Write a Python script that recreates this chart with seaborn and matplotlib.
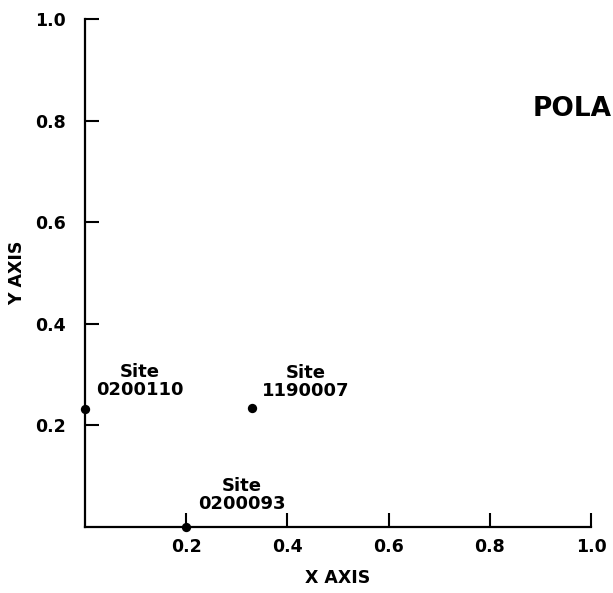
import matplotlib
matplotlib.use("Agg")
import matplotlib.pyplot as plt
import seaborn as sns
import pandas as pd

# data
sites = ["0200110", "1190007", "0200093"]
x_vals = [0.0, 0.33, 0.20]
y_vals = [0.232, 0.234, 0.0]
x_ticks = [0.2, 0.4, 0.6, 0.8, 1.0]
y_ticks = [0.2, 0.4, 0.6, 0.8, 1.0]
tick_labels = ["0.2", "0.4", "0.6", "0.8", "1.0"]

df = pd.DataFrame({"site": sites, "x": x_vals, "y": y_vals})

sns.set_style("ticks")
plt.rcParams["font.family"] = ["DejaVu Sans"]
plt.rcParams["text.color"] = "black"
plt.rcParams["axes.labelcolor"] = "black"

fig = plt.figure(figsize=(6.13, 5.93), dpi=100)
W, H = 613, 593
ax = fig.add_axes([85 / W, (H - 527) / H, (591 - 85) / W, (527 - 19) / H])

sns.scatterplot(data=df, x="x", y="y", ax=ax, color="black", s=45,
                edgecolor="black", linewidth=0, clip_on=False, zorder=5)

ax.set_xlim(0, 1.0)
ax.set_ylim(0, 1.0)
ax.set_xticks(x_ticks)
ax.set_yticks(y_ticks)
ax.set_xticklabels(tick_labels, fontsize=12.5, fontweight="bold", color="black")
ax.set_yticklabels(tick_labels, fontsize=12.5, fontweight="bold", color="black")
ax.tick_params(axis="both", direction="in", length=10, width=1.5, colors="black")
ax.tick_params(axis="y", pad=14)
ax.tick_params(axis="x", pad=8)
sns.despine(ax=ax)
for s in ["left", "bottom"]:
    ax.spines[s].set_linewidth(1.6)
    ax.spines[s].set_color("black")

ax.set_xlabel("X AXIS", fontsize=12.5, fontweight="bold", labelpad=9, color="black")
ax.set_ylabel("Y AXIS", fontsize=12.5, fontweight="bold", labelpad=6, color="black")

offsets = [(8, 7), (7, 6), (8.5, 10)]
for name, xv, yv, off in zip(sites, x_vals, y_vals, offsets):
    ax.annotate(f"Site\n{name}", (xv, yv), xytext=off, textcoords="offset points",
                ha="left", va="bottom", multialignment="center",
                fontsize=13, fontweight="bold", linespacing=1.0,
                color="black", annotation_clip=False)

fig.text(533 / W, 1 - 109 / H, "POLA", fontsize=19, fontweight="bold",
         ha="left", va="center", color="black")

fig.savefig("out.png", dpi=100)
